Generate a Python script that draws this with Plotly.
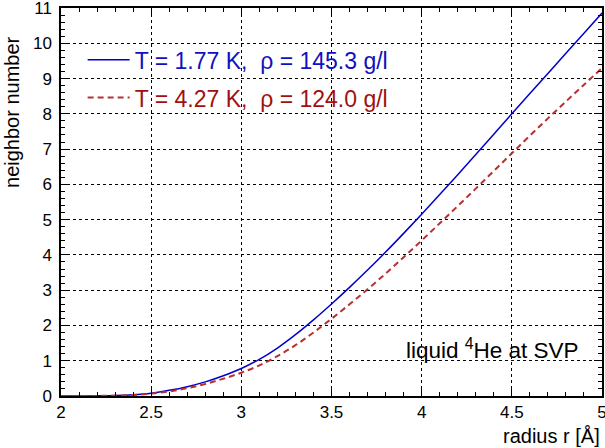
import plotly.graph_objects as go

radius = [2.0, 2.1, 2.2, 2.3, 2.4, 2.5, 2.6, 2.7, 2.8, 2.9,
          3.0, 3.1, 3.2, 3.3, 3.4, 3.5, 3.6, 3.7, 3.8, 3.9,
          4.0, 4.1, 4.2, 4.3, 4.4, 4.5, 4.6, 4.7, 4.8, 4.9, 5.0]

n_177K = [0.0, 0.001, 0.004, 0.012, 0.035, 0.08, 0.16, 0.265, 0.40, 0.575,
          0.78, 1.04, 1.36, 1.74, 2.16, 2.61, 3.08, 3.57, 4.08, 4.61,
          5.155, 5.71, 6.275, 6.845, 7.42, 8.00, 8.575, 9.145, 9.715, 10.285, 10.855]

n_427K = [0.0, 0.001, 0.003, 0.010, 0.030, 0.065, 0.13, 0.22, 0.34, 0.49,
          0.66, 0.87, 1.13, 1.44, 1.80, 2.19, 2.60, 3.025, 3.47, 3.935,
          4.41, 4.895, 5.385, 5.88, 6.38, 6.88, 7.38, 7.87, 8.35, 8.825, 9.295]

label_177 = "T = 1.77 K,\u00a0 \u03c1 = 145.3 g/l"
label_427 = "T = 4.27 K,\u00a0 \u03c1 = 124.0 g/l"

FONT = "Liberation Sans, Arial, sans-serif"

fig = go.Figure()
fig.add_trace(go.Scatter(
    x=radius, y=n_177K, mode="lines", line=dict(color="#0000cc", width=1.5, shape="spline", smoothing=1.0),
    name=f"<span style='color:#1010c0'>{label_177}</span>", legendgroup="a"))
fig.add_trace(go.Scatter(
    x=radius, y=n_427K, mode="lines",
    line=dict(color="#b83030", width=2, dash="6px,4px", shape="spline", smoothing=1.0),
    name=f"<span style='color:#a01010'>{label_427}</span>", legendgroup="b"))

axis_common = dict(
    showline=True, linecolor="black", linewidth=1.5, mirror="allticks",
    ticks="inside", ticklen=8, tickwidth=1, tickcolor="black",
    showgrid=True, gridcolor="black", gridwidth=1, griddash="dot",
    zeroline=False, tickfont=dict(family=FONT, size=17, color="black"),
    ticklabeloverflow="allow", automargin=False,
)

fig.update_xaxes(range=[2, 5], dtick=0.5, tick0=2,
                 minor=dict(ticks="inside", dtick=0.1, ticklen=4, tickcolor="black", showgrid=False),
                 **axis_common)
fig.update_yaxes(range=[0, 11], dtick=1, tick0=0,
                 minor=dict(ticks="inside", dtick=0.2, ticklen=4, tickcolor="black", showgrid=False),
                 ticklabelstandoff=4, **axis_common)

fig.add_annotation(x=3.9, y=1.32, xref="x", yref="y", xanchor="left", yanchor="middle",
                   text="liquid <sup>4</sup>He at SVP", showarrow=False,
                   font=dict(family=FONT, size=22.5, color="black"))
fig.add_annotation(x=1.0, y=-0.07, xref="paper", yref="paper", xanchor="right", yanchor="top",
                   text="radius r [\u00c5]", showarrow=False,
                   font=dict(family=FONT, size=20, color="black"))
fig.add_annotation(x=-0.0906, y=0.531, xref="paper", yref="paper", xanchor="center", yanchor="bottom",
                   text="neighbor number", showarrow=False, textangle=-90,
                   font=dict(family=FONT, size=20, color="black"))

fig.update_layout(
    width=605, height=448,
    margin=dict(l=61, r=3, t=8, b=52, autoexpand=False),
    paper_bgcolor="white", plot_bgcolor="white",
    showlegend=True,
    legend=dict(x=0.04, y=0.922, xanchor="left", yanchor="top", bgcolor="rgba(0,0,0,0)",
                font=dict(family=FONT, size=23), itemwidth=42, tracegroupgap=5,
                itemclick=False),
)

fig.write_html("out.html", config={"displayModeBar": False},
               post_script="document.body.style.margin='0px';document.body.style.overflow='hidden';")
